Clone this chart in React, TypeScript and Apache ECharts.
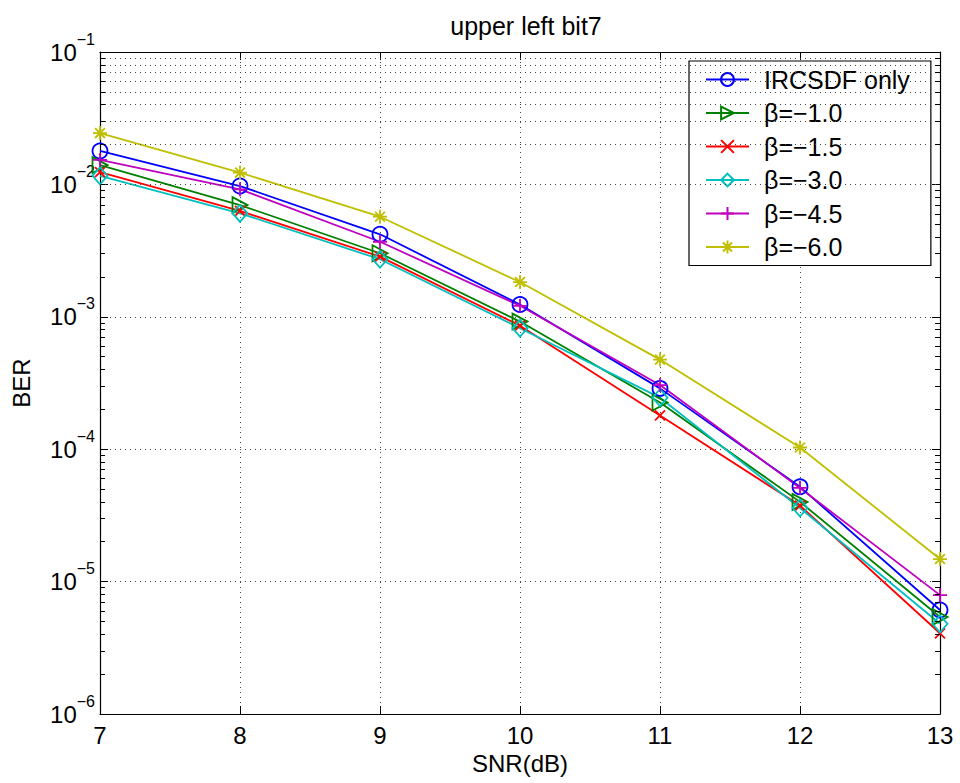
import React, { useEffect, useRef } from 'react';
import * as echarts from 'echarts';

const snr = [7, 8, 9, 10, 11, 12, 13];
const ircsdfOnly = [0.0179, 0.00972, 0.0042, 0.00124, 0.000288, 5.2e-5, 6.1e-6];
const beta10 = [0.014, 0.00698, 0.00302, 0.00092, 0.000225, 4.0e-5, 5.4e-6];
const beta15 = [0.0124, 0.0063, 0.00285, 0.000857, 0.00018, 3.75e-5, 4.07e-6];
const beta30 = [0.0116, 0.00605, 0.00272, 0.00082, 0.000245, 3.6e-5, 4.8e-6];
const beta45 = [0.0153, 0.00918, 0.00369, 0.00121, 0.000305, 5.1e-5, 7.9e-6];
const beta60 = [0.0244, 0.01228, 0.0057, 0.00183, 0.000475, 0.000103, 1.48e-5];

const seriesNames = ['IRCSDF only', 'β=−1.0', 'β=−1.5', 'β=−3.0', 'β=−4.5', 'β=−6.0'];
const seriesValues = [ircsdfOnly, beta10, beta15, beta30, beta45, beta60];
const seriesColors = ['#0000ff', '#008000', '#ff0000', '#00bfbf', '#bf00bf', '#bfbf00'];

const decades = [1e-6, 1e-5, 1e-4, 1e-3, 1e-2];
const minorMultipliers = [2, 3, 4, 5, 6, 7, 8, 9];

const titleText = 'upper left bit7';
const xName = 'SNR(dB)';
const yName = 'BER';

const FONT = '"Liberation Sans", Arial, Helvetica, sans-serif';

const symbols: { symbol: string; size: number | number[] }[] = [
  { symbol: 'circle', size: 15 },
  { symbol: 'path://M0,0L12,6L0,12Z', size: [15, 16] },
  { symbol: 'path://M0,0L10,10M10,0L0,10', size: 10 },
  { symbol: 'diamond', size: [15, 17] },
  { symbol: 'path://M5,0L5,10M0,5L10,5', size: 14 },
  { symbol: 'path://M5,0L5,10M0,5L10,5M1.5,1.5L8.5,8.5M8.5,1.5L1.5,8.5', size: 14 },
];

// minor tick length expressed in x-axis units (about 5px over a 140px-per-unit axis)
const MINOR_TICK = 5 / 140;

export default function App() {
  const ref = useRef<HTMLDivElement>(null);
  useEffect(() => {
    if (!ref.current) return;
    const chart = echarts.init(ref.current, undefined, { renderer: 'svg' });
    const minorValues: number[] = [];
    decades.forEach((d) => minorMultipliers.forEach((m) => minorValues.push(d * m)));
    const xMin = snr[0];
    const xMax = snr[snr.length - 1];

    const dotted = { color: '#444', width: 1, type: [1, 4] as any };

    const series: any[] = seriesNames.map((name, i) => ({
      name,
      type: 'line',
      data: snr.map((x, j) => [x, seriesValues[i][j]]),
      symbol: symbols[i].symbol,
      symbolSize: symbols[i].size,
      showAllSymbol: true,
      lineStyle: { color: seriesColors[i], width: 1.8 },
      itemStyle: { color: 'rgba(0,0,0,0)', borderColor: seriesColors[i], borderWidth: 1.8 },
      emphasis: { disabled: true },
      z: 3,
    }));

    series.push({
      name: 'minorGrid',
      type: 'line',
      data: [],
      silent: true,
      markLine: {
        silent: true,
        symbol: 'none',
        label: { show: false },
        lineStyle: dotted,
        animation: false,
        data: minorValues.map((v) => ({ yAxis: v })),
      },
      z: 1,
    });

    series.push({
      name: 'minorTicks',
      type: 'line',
      data: [],
      silent: true,
      markLine: {
        silent: true,
        symbol: 'none',
        label: { show: false },
        lineStyle: { color: '#000', width: 1, type: 'solid' },
        animation: false,
        data: [
          ...minorValues.map((v) => [{ coord: [xMin, v] }, { coord: [xMin + MINOR_TICK, v] }]),
          ...minorValues.map((v) => [{ coord: [xMax - MINOR_TICK, v] }, { coord: [xMax, v] }]),
        ],
      },
      z: 2,
    });

    chart.setOption({
      animation: false,
      backgroundColor: '#ffffff',
      textStyle: { fontFamily: FONT },
      title: {
        text: titleText,
        left: 521,
        top: 8,
        textAlign: 'center',
        textStyle: { fontFamily: FONT, fontSize: 25, fontWeight: 'normal', color: '#000' },
      },
      legend: {
        data: seriesNames,
        orient: 'vertical',
        left: 689,
        top: 61,
        padding: [6, 21, 6, 16],
        itemWidth: 43,
        itemHeight: 16,
        itemGap: 8.5,
        backgroundColor: '#fff',
        borderColor: '#000',
        borderWidth: 1.2,
        borderRadius: 0,
        selectedMode: false,
        textStyle: { fontFamily: FONT, fontSize: 25, color: '#000', lineHeight: 25, padding: [0, 0, 0, 10] },
      },
      grid: { left: 100, right: 20, top: 52, bottom: 69, show: false },
      xAxis: [
        {
          type: 'value',
          min: 7,
          max: 13,
          interval: 1,
          name: xName,
          nameLocation: 'middle',
          nameGap: 37,
          nameTextStyle: { fontFamily: FONT, fontSize: 24, color: '#000' },
          axisLine: { lineStyle: { color: '#000', width: 1.2 } },
          axisTick: { inside: true, length: 8, lineStyle: { color: '#000' } },
          axisLabel: { fontFamily: FONT, fontSize: 24, color: '#000', margin: 9 },
          splitLine: { show: true, lineStyle: dotted },
        },
        {
          type: 'value',
          position: 'top',
          min: 7,
          max: 13,
          interval: 1,
          axisLine: { lineStyle: { color: '#000', width: 1.2 } },
          axisTick: { inside: true, length: 8, lineStyle: { color: '#000' } },
          axisLabel: { show: false },
          splitLine: { show: false },
        },
      ],
      yAxis: [
        {
          type: 'log',
          logBase: 10,
          min: 1e-6,
          max: 1e-1,
          name: yName,
          nameLocation: 'middle',
          nameGap: 67,
          nameRotate: 90,
          nameTextStyle: { fontFamily: FONT, fontSize: 24, color: '#000' },
          axisLine: { show: true, lineStyle: { color: '#000', width: 1.2 } },
          axisTick: { show: true, inside: true, length: 8, lineStyle: { color: '#000' } },
          axisLabel: {
            margin: 5,
            formatter: (v: number) => `{b|10}{s|−${Math.round(-Math.log10(v))}}`,
            rich: {
              b: {
                fontFamily: FONT,
                fontSize: 24,
                color: '#000',
                lineHeight: 42,
                verticalAlign: 'middle',
              },
              s: { fontFamily: FONT, fontSize: 16, color: '#000', lineHeight: 16, verticalAlign: 'top' },
            },
          },
          splitLine: { show: true, lineStyle: dotted },
        },
        {
          type: 'log',
          logBase: 10,
          min: 1e-6,
          max: 1e-1,
          position: 'right',
          axisLine: { show: true, lineStyle: { color: '#000', width: 1.2 } },
          axisTick: { show: true, inside: true, length: 8, lineStyle: { color: '#000' } },
          axisLabel: { show: false },
          splitLine: { show: false },
        },
      ],
      series,
    });
    return () => chart.dispose();
  }, []);
  return (
    <div
      ref={ref}
      style={{ position: 'fixed', left: 0, top: 0, width: 960, height: 783, background: '#fff' }}
    />
  );
}
